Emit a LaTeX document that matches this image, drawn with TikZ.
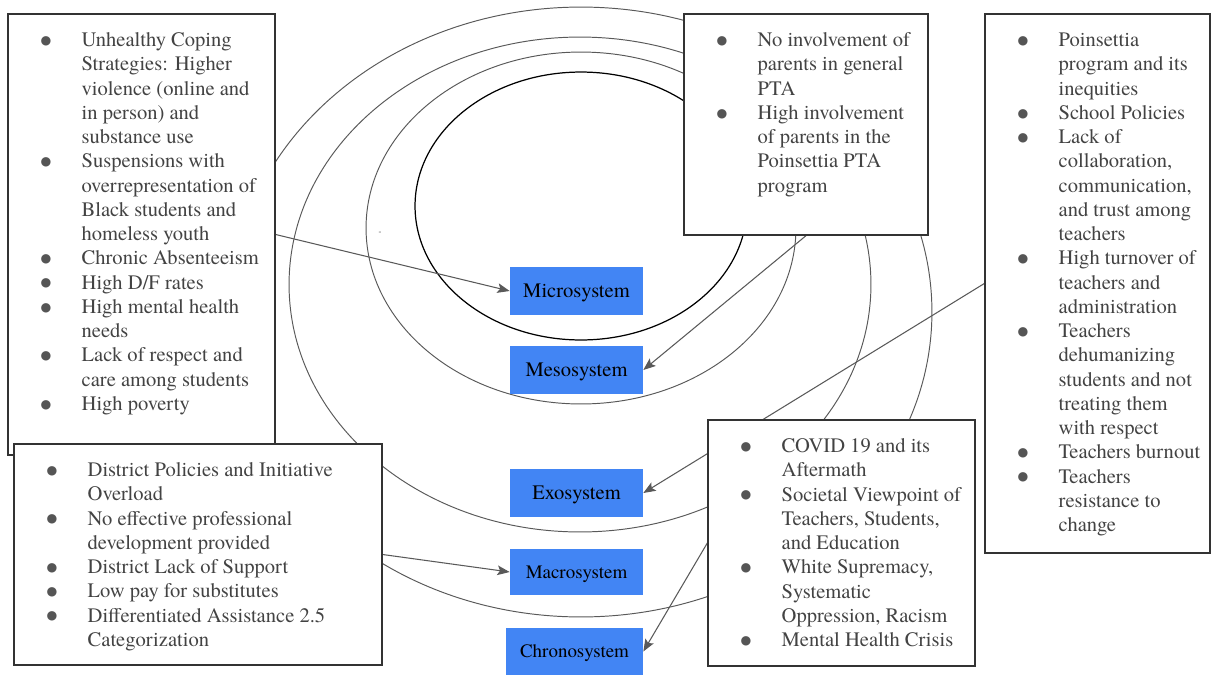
\documentclass[tikz,border=0pt]{standalone}
\usepackage{fontspec}
\setmainfont{texgyretermes-regular.otf}[BoldFont=texgyretermes-bold.otf]
\newfontfamily\dotfont{DejaVu Sans}
\usetikzlibrary{positioning}
\usetikzlibrary{arrows.meta}
\usetikzlibrary{backgrounds}

\definecolor{listgray}{HTML}{434343}
\definecolor{dotgray}{HTML}{555555}
\definecolor{linegray}{HTML}{595959}
\definecolor{sysblue}{HTML}{4285F4}

\newcommand{\bl}{\strut\makebox[0.82cm][l]{\raisebox{0.25ex}{\dotfont\fontsize{7}{8}\selectfont\textcolor{dotgray}{●}}}}
\newcommand{\ind}{\strut\hspace*{0.82cm}}

\begin{document}
\begin{tikzpicture}[x=0.02cm, y=-0.02cm,
	listbox/.style={draw=black!80, line width=0.8pt, fill=white, inner sep=0pt},
	listtext/.style={inner sep=0pt, align=left, text=listgray, font=\fontsize{11.7}{13.8}\selectfont},
	sysbox/.style={fill=sysblue, inner sep=0pt, text depth=0pt, minimum width=2.66cm, minimum height=0.96cm, font=\fontsize{11.7}{14}\selectfont},
	ring/.style={draw=linegray, line width=0.55pt},
	link/.style={draw=linegray, line width=0.6pt, -{Stealth[length=7pt, width=5.5pt, inset=1.5pt]}}]

	\useasboundingbox (0,0) rectangle (1211,677);

	%list boxes

	\node[listbox, minimum width=5.34cm, minimum height=8.82cm] (microlist) at (141.5,234.5) {};
	\node[listbox, minimum width=7.36cm, minimum height=4.42cm] (macrolist) at (198,554.5) {};
	\node[listbox, minimum width=4.88cm, minimum height=4.42cm] (mesolist) at (806,124.5) {};
	\node[listbox, minimum width=4.5cm, minimum height=10.78cm] (exolist) at (1097.5,283.5) {};
	\node[listbox, minimum width=5.34cm, minimum height=4.92cm] (chronolist) at (841.5,543) {};

	\node[listtext, below right=0.32cm and 0.66cm of microlist.north west] (microtext) {
		\bl Unhealthy Coping\\
		\ind Strategies: Higher\\
		\ind violence (online and\\
		\ind in person) and\\
		\ind substance use\\
		\bl Suspensions with\\
		\ind overrepresentation of\\
		\ind Black students and\\
		\ind homeless youth\\
		\bl Chronic Absenteeism\\
		\bl High D/F rates\\
		\bl High mental health\\
		\ind needs\\
		\bl Lack of respect and\\
		\ind care among students\\
		\bl High poverty};

	\node[listtext, below right=0.32cm and 0.66cm of macrolist.north west] (macrotext) {
		\bl District Policies and Initiative\\
		\ind Overload\\
		\bl No effective professional\\
		\ind development provided\\
		\bl District Lack of Support\\
		\bl Low pay for substitutes\\
		\bl Differentiated Assistance 2.5\\
		\ind Categorization};

	\node[listtext, below right=0.32cm and 0.66cm of mesolist.north west] (mesotext) {
		\bl No involvement of\\
		\ind parents in general\\
		\ind PTA\\
		\bl High involvement\\
		\ind of parents in the\\
		\ind Poinsettia PTA\\
		\ind program};

	\node[listtext, below right=0.32cm and 0.66cm of exolist.north west] (exotext) {
		\bl Poinsettia\\
		\ind program and its\\
		\ind inequities\\
		\bl School Policies\\
		\bl Lack of\\
		\ind collaboration,\\
		\ind communication,\\
		\ind and trust among\\
		\ind teachers\\
		\bl High turnover of\\
		\ind teachers and\\
		\ind administration\\
		\bl Teachers\\
		\ind dehumanizing\\
		\ind students and not\\
		\ind treating them\\
		\ind with respect\\
		\bl Teachers burnout\\
		\bl Teachers\\
		\ind resistance to\\
		\ind change};

	\node[listtext, below right=0.32cm and 0.66cm of chronolist.north west] (chronotext) {
		\bl COVID 19 and its\\
		\ind Aftermath\\
		\bl Societal Viewpoint of\\
		\ind Teachers, Students,\\
		\ind and Education\\
		\bl White Supremacy,\\
		\ind Systematic\\
		\ind Oppression, Racism\\
		\bl Mental Health Crisis};

	%system labels

	\node[sysbox] (micro) at (576.5,291) {Microsystem};
	\node[sysbox] (meso) at (576.5,370) {Mesosystem};
	\node[sysbox] (exo) at (576.5,493) {Exosystem};
	\node[sysbox, minimum height=0.92cm, font=\fontsize{10.8}{13}\selectfont] (macro) at (576.5,572) {Macrosystem};
	\node[sysbox, minimum width=2.74cm, minimum height=0.94cm, font=\fontsize{10.8}{13}\selectfont] (chrono) at (574.5,651.5) {Chronosystem};

	\node[inner sep=0pt, text=listgray, font=\tiny] (speck) at (380,233) {-};

	%rings and arrows

	\begin{scope}[on background layer]
		\draw[ring] (581,312) ellipse [x radius=7.02cm, y radius=6.1cm];
		\draw[ring] (580,284.5) ellipse [x radius=5.82cm, y radius=4.95cm];
		\draw[ring] (581,228) ellipse [x radius=4.3cm, y radius=3.52cm];
		\draw[ring, draw=black, line width=0.7pt] (581,206) ellipse [x radius=3.32cm, y radius=2.68cm];

		\draw[link] (microlist.east) -- (micro.west);
		\draw[link] (mesolist.south) -- (meso.east);
		\draw[link] (exolist.west) -- (exo.east);
		\draw[link] (macrolist.east) -- (macro.west);
		\draw[link] (chronolist.west) -- (chrono.east);
	\end{scope}

\end{tikzpicture}
\end{document}
